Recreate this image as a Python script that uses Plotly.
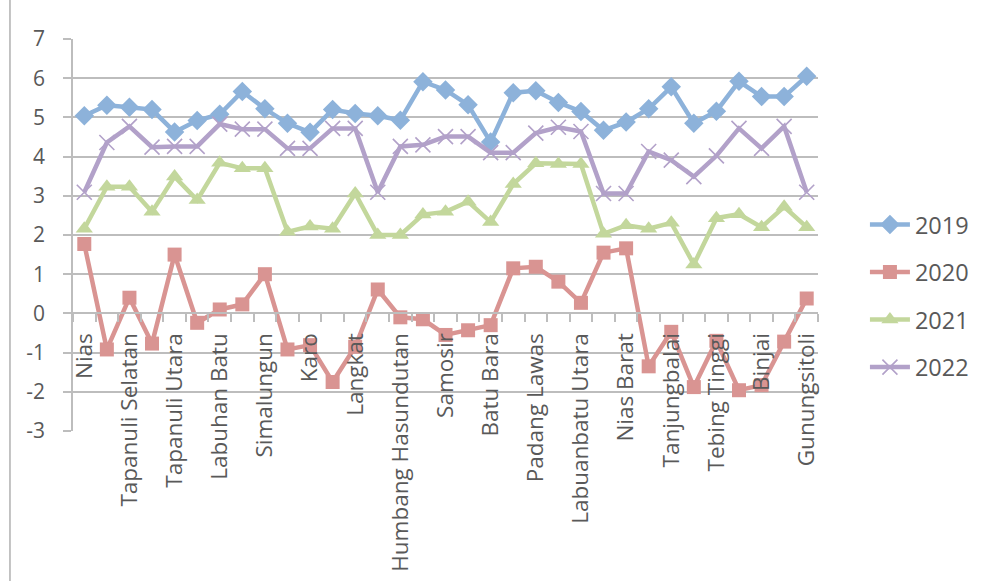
import plotly.graph_objects as go

categories = ["Nias", "Mandailing Natal", "Tapanuli Selatan", "Tapanuli Tengah", "Tapanuli Utara",
              "Toba Samosir", "Labuhan Batu", "Asahan", "Simalungun", "Dairi", "Karo",
              "Deli Serdang", "Langkat", "Nias Selatan", "Humbang Hasundutan", "Pakpak Bharat",
              "Samosir", "Serdang Bedagai", "Batu Bara", "Padang Lawas Utara", "Padang Lawas",
              "Labuhanbatu Selatan", "Labuanbatu Utara", "Nias Utara", "Nias Barat", "Sibolga",
              "Tanjungbalai", "Pematangsiantar", "Tebing Tinggi", "Medan", "Binjai",
              "Padangsidimpuan", "Gunungsitoli"]

y2019 = [5.04, 5.31, 5.26, 5.2, 4.63, 4.92, 5.08, 5.66, 5.22, 4.85, 4.62, 5.2, 5.1, 5.04, 4.93,
         5.91, 5.7, 5.32, 4.37, 5.63, 5.68, 5.38, 5.15, 4.67, 4.88, 5.22, 5.78, 4.85, 5.16, 5.92,
         5.53, 5.53, 6.05]
y2020 = [1.77, -0.92, 0.4, -0.77, 1.5, -0.24, 0.1, 0.23, 1.0, -0.92, -0.81, -1.75, -0.85, 0.61,
         -0.1, -0.15, -0.55, -0.43, -0.3, 1.15, 1.19, 0.81, 0.27, 1.55, 1.66, -1.35, -0.47, -1.88,
         -0.7, -1.96, -1.83, -0.72, 0.38]
y2021 = [2.16, 3.23, 3.23, 2.59, 3.49, 2.89, 3.84, 3.7, 3.7, 2.08, 2.22, 2.16, 3.06, 2.0, 2.0,
         2.52, 2.59, 2.85, 2.33, 3.3, 3.83, 3.81, 3.81, 2.03, 2.25, 2.16, 2.31, 1.25, 2.43, 2.53,
         2.2, 2.72, 2.2]
y2022 = [3.09, 4.36, 4.77, 4.24, 4.26, 4.26, 4.83, 4.7, 4.7, 4.21, 4.21, 4.72, 4.72, 3.09, 4.26,
         4.3, 4.51, 4.51, 4.1, 4.1, 4.6, 4.75, 4.64, 3.06, 3.06, 4.13, 3.91, 3.49, 4.02, 4.72,
         4.21, 4.77, 3.09]

series_names = ["2019", "2020", "2021", "2022"]
tick_labels = [c if i % 2 == 0 else "" for i, c in enumerate(categories)]
y_tick_values = [-3, -2, -1, 0, 1, 2, 3, 4, 5, 6, 7]
y_tick_labels = ["-3", "-2", "-1", "0", "1", "2", "3", "4", "5", "6", "7"]

colors = ["#8db2da", "#d99492", "#c3d79c", "#b2a1c9"]
symbols = ["diamond", "square", "triangle-up", "x-thin"]
sizes = [15, 14, 15, 15]

FONT = "Segoe UI, Open Sans, sans-serif"
TXT = "#595959"
GRID = "#bdbdbd"

fig = go.Figure()
for name, ys, col, sym, sz in zip(series_names, [y2019, y2020, y2021, y2022], colors, symbols, sizes):
    mk = dict(symbol=sym, size=sz, color=col)
    if sym == "x-thin":
        mk["line"] = dict(width=1.6, color=col)
    else:
        mk["line"] = dict(width=0)
    fig.add_trace(go.Scatter(x=categories, y=ys, name=name, mode="lines+markers",
                             line=dict(color=col, width=4.5), marker=mk,
                             legendgroup=name))

fig.update_layout(
    width=987, height=581,
    margin=dict(l=73, r=169, t=39, b=150, autoexpand=False),
    paper_bgcolor="white", plot_bgcolor="white",
    font=dict(family=FONT, size=21, color=TXT),
    legend=dict(x=1.063, y=0.344, xanchor="left", yanchor="middle",
                font=dict(size=23.5, color=TXT), traceorder="grouped",
                tracegroupgap=14, itemwidth=40, bgcolor="rgba(0,0,0,0)"),
    showlegend=True,
)

fig.update_xaxes(
    type="category", anchor="free", position=0.3, automargin=False,
    tickmode="array", tickvals=categories, ticktext=tick_labels,
    tickson="boundaries", ticks="outside", ticklen=8, tickwidth=1.5, tickcolor=GRID,
    tickangle=-90, ticklabelstandoff=10,
    showline=True, linecolor=GRID, linewidth=1.5,
    showgrid=False, zeroline=False,
    range=[-0.5, 32.5],
    tickfont=dict(family=FONT, size=22.5, color=TXT),
)
fig.update_yaxes(
    range=[-3, 7], tickmode="array", tickvals=y_tick_values, ticktext=y_tick_labels,
    automargin=False,
    ticks="outside", ticklen=8, tickwidth=1.5, tickcolor=GRID,
    showline=True, linecolor=GRID, linewidth=1.5,
    showgrid=True, gridcolor=GRID, gridwidth=1.5,
    zeroline=False, ticklabelstandoff=14,
    tickfont=dict(family=FONT, size=21, color=TXT),
)

# outer chart frame (left edge visible in the reference)
fig.add_shape(type="line", xref="paper", yref="paper",
              x0=-0.0846, x1=-0.0846, y0=-0.4, y1=1.12,
              line=dict(color="#b0b0b0", width=1.5))

fig.write_html("out.html")
